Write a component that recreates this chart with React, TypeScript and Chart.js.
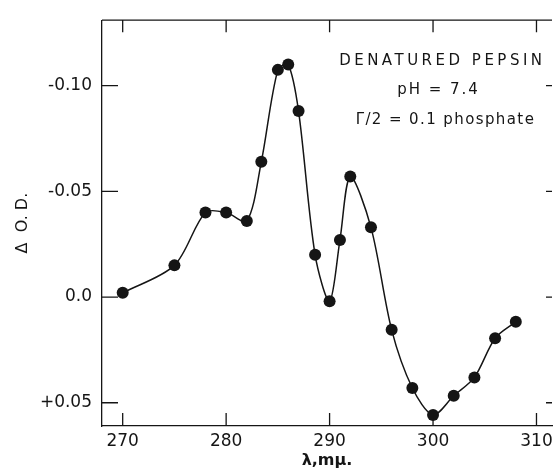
import React, { useEffect, useRef } from "react";
import { Chart, registerables } from "chart.js";

Chart.register(...registerables);

// ---- data ----
const wavelengths = [270, 275, 278, 280, 282, 283.4, 285, 286, 287, 288.6, 290, 291, 292, 294, 296, 298, 300, 302, 304, 306, 308];
const deltaOD = [-0.002, -0.015, -0.040, -0.040, -0.036, -0.064, -0.1075, -0.110, -0.088, -0.020, 0.002, -0.027, -0.057, -0.033, 0.0155, 0.043, 0.0558, 0.0467, 0.038, 0.0195, 0.0117];

const xTickValues = [270, 280, 290, 300, 310];
const yTickValues = [-0.1, -0.05, 0, 0.05];
const yTickLabels = ["-0.10", "-0.05", "0.0", "+0.05"];

const annotationLines = ["DENATURED PEPSIN", "pH = 7.4", "\u0393/2 = 0.1 phosphate"];
const annotationX = [300.9, 300.53, 301.2];
const annotationY = [-0.1117, -0.0981, -0.0836];

const xTitle = "\u03bb,m\u03bc.";
const yTitle = "\u0394  O. D.";

// ---- styles ----
const INK = "#151515";
const FONT = "'DejaVu Sans', sans-serif";
const annotationSpacing = [3.5, 2, 1.4];

const framePlugin = {
  id: "frameTicks",
  afterDraw(chart: any) {
    const { ctx, chartArea, scales } = chart;
    const { left, right, top, bottom } = chartArea;
    const x = scales.x;
    const y = scales.y;
    ctx.save();
    ctx.strokeStyle = INK;
    ctx.lineWidth = 1.3;
    ctx.beginPath();
    ctx.moveTo(left, top);
    ctx.lineTo(right, top);
    x.ticks.forEach((t: any) => {
      const px = x.getPixelForValue(t.value);
      ctx.moveTo(px, bottom);
      ctx.lineTo(px, bottom - 13);
      ctx.moveTo(px, top);
      ctx.lineTo(px, top + 12);
    });
    y.ticks.forEach((t: any) => {
      const py = y.getPixelForValue(t.value);
      ctx.moveTo(left, py);
      ctx.lineTo(left + 16, py);
      ctx.moveTo(right, py);
      ctx.lineTo(right - 6, py);
    });
    ctx.stroke();

    ctx.fillStyle = INK;
    ctx.textAlign = "center";
    ctx.textBaseline = "middle";
    ctx.font = `15px ${FONT}`;
    annotationLines.forEach((line, i) => {
      (ctx as any).letterSpacing = `${annotationSpacing[i]}px`;
      ctx.fillText(line, x.getPixelForValue(annotationX[i]), y.getPixelForValue(annotationY[i]));
    });
    (ctx as any).letterSpacing = "0px";
    ctx.restore();
  },
};

export default function App() {
  const ref = useRef<HTMLCanvasElement | null>(null);

  useEffect(() => {
    document.body.style.margin = "0";
    const canvas = ref.current;
    if (!canvas) return;
    const points = wavelengths.map((w, i) => ({ x: w, y: deltaOD[i] }));
    const chart = new Chart(canvas, {
      type: "scatter",
      data: {
        datasets: [
          {
            data: points,
            showLine: true,
            tension: 0.3,
            borderColor: INK,
            borderWidth: 1.5,
            pointRadius: 6,
            pointBackgroundColor: INK,
            pointBorderColor: INK,
            pointBorderWidth: 0,
          },
        ],
      },
      options: {
        responsive: false,
        animation: false,
        devicePixelRatio: 1,
        layout: { padding: { top: 17, right: 0, left: 0, bottom: 0 } },
        plugins: { legend: { display: false }, tooltip: { enabled: false } },
        scales: {
          x: {
            type: "linear",
            min: 268,
            max: 311.5,
            grid: { display: false, drawTicks: false },
            border: { display: true, color: INK, width: 1.3 },
            afterBuildTicks: (scale: any) => {
              scale.ticks = xTickValues.map((v) => ({ value: v }));
            },
            afterFit: (scale: any) => {
              scale.height = 48;
            },
            ticks: {
              padding: 5,
              color: INK,
              font: { family: FONT, size: 17 },
              maxRotation: 0,
              autoSkip: false,
              callback: (v: any) => String(v),
            },
            title: {
              display: true,
              text: xTitle,
              color: INK,
              font: { family: FONT, size: 16, weight: "bold" },
              padding: { top: 0, bottom: 4 },
            },
          },
          y: {
            type: "linear",
            reverse: true,
            min: -0.131,
            max: 0.061,
            grid: { display: false, drawTicks: false },
            border: { display: true, color: INK, width: 1.3 },
            afterBuildTicks: (scale: any) => {
              scale.ticks = yTickValues.map((v) => ({ value: v }));
            },
            afterFit: (scale: any) => {
              scale.width = 102;
            },
            ticks: {
              padding: 10,
              color: INK,
              font: { family: FONT, size: 17 },
              autoSkip: false,
              callback: (_v: any, i: number) => yTickLabels[i],
            },
            title: {
              display: true,
              text: yTitle,
              color: INK,
              font: { family: FONT, size: 16 },
              padding: { top: 13, bottom: 0 },
            },
          },
        },
      },
      plugins: [framePlugin],
    });
    return () => chart.destroy();
  }, []);

  return (
    <div style={{ width: 558, height: 474 }}>
      <canvas ref={ref} width={558} height={474} style={{ display: "block" }} />
    </div>
  );
}
